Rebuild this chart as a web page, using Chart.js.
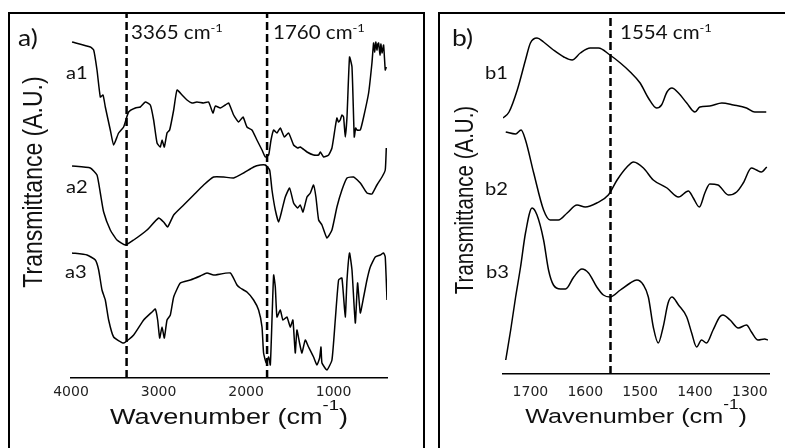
<!DOCTYPE html>
<html>
<head>
<meta charset="utf-8">
<script src="https://cdn.jsdelivr.net/npm/chart.js"></script>
<style>
  body { margin: 0; background: #fff; }
  #wrap { position: relative; width: 785px; height: 448px; overflow: hidden; background: #fff; }
  .box { position: absolute; top: 12px; height: 460px; border: 2px solid #000; box-sizing: border-box; }
  canvas { position: absolute; top: 0; }
</style>
</head>
<body>
<div id="wrap">
  <div class="box" style="left:8px;width:417px"></div>
  <div class="box" style="left:438px;width:360px"></div>
  <canvas id="ftirA" width="430" height="448" style="left:0"></canvas>
  <canvas id="ftirB" width="353" height="448" style="left:432px"></canvas>
</div>
<script>
// full-range spectra, [wavenumber cm-1, transmittance A.U.]
const a1 = [[3988,336],[3779,331],[3741,328],[3703,308],[3665,281],[3634,283],[3608,271],[3551,248],
  [3513,233],[3456,245],[3399,251],[3342,266],[3265,270],[3208,271],[3151,276],[3094,273],[3056,258],
  [3017,235],[2980,231],[2960,238],[2934,231],[2903,245],[2873,248],[2827,268],[2789,288],[2732,283],
  [2675,278],[2618,275],[2561,276],[2485,275],[2428,276],[2378,265],[2351,272],[2294,270],[2237,273],
  [2199,275],[2142,263],[2085,256],[2035,261],[1990,251],[1933,248],[1876,238],[1818,228],[1780,221],
  [1742,223],[1715,238],[1685,248],[1647,245],[1609,250],[1563,241],[1514,245],[1457,233],[1411,230],
  [1381,231],[1304,226],[1229,223],[1171,223],[1152,226],[1114,221],[1057,223],[1019,230],[981,251],
  [962,260],[945,256],[924,258],[905,263],[886,261],[867,241],[847,261],[818,321],[790,311],[764,241],
  [748,250],[733,248],[695,248],[657,261],[600,285],[562,315],[543,335],[530,326],[518,336],[505,328],
  [495,334],[486,335],[470,323],[460,334],[447,325],[429,333],[410,308],[398,311]];

const a2 = [[3988,212],[3779,210],[3703,203],[3665,185],[3627,166],[3551,148],[3475,138],[3379,133],
  [3284,138],[3132,148],[2999,160],[2942,156],[2896,151],[2827,163],[2713,173],[2599,183],[2485,193],
  [2371,201],[2257,201],[2142,200],[2028,205],[1914,211],[1838,213],[1780,213],[1731,208],[1704,188],
  [1666,168],[1628,156],[1590,168],[1552,181],[1503,190],[1457,175],[1411,170],[1381,173],[1350,166],
  [1304,181],[1266,185],[1229,193],[1202,181],[1171,158],[1133,153],[1076,140],[1019,148],[962,171],
  [905,188],[847,200],[771,201],[695,195],[619,185],[562,184],[505,193],[447,201],[410,208],[398,230]];

const a3 = [[3988,125],[3817,123],[3722,118],[3684,108],[3646,88],[3608,78],[3570,58],[3513,41],
  [3399,35],[3284,43],[3170,58],[3075,66],[3037,69],[3010,58],[2987,40],[2960,51],[2934,40],[2903,58],
  [2865,63],[2827,81],[2751,95],[2637,98],[2523,102],[2447,105],[2371,103],[2180,105],[2104,93],
  [2066,90],[1990,86],[1914,78],[1857,68],[1818,51],[1800,25],[1769,15],[1742,21],[1723,13],[1704,58],
  [1685,103],[1666,91],[1647,61],[1609,68],[1579,58],[1533,61],[1495,51],[1465,58],[1438,25],[1419,48],
  [1389,35],[1362,25],[1324,38],[1286,31],[1229,21],[1191,13],[1160,20],[1144,31],[1133,15],[1076,8],
  [1019,18],[981,58],[943,98],[905,100],[867,61],[847,98],[818,125],[790,108],[752,55],[726,95],
  [695,65],[657,81],[619,98],[581,111],[524,121],[467,123],[429,125],[410,121],[390,78]];

// amide region close-up
const b1 = [[1750,256],[1739,262],[1724,284],[1709,314],[1700,331],[1688,336],[1676,332],[1658,324],
  [1639,317],[1624,314],[1609,321],[1591,326],[1576,326],[1555,319],[1536,311],[1518,302],[1500,291],
  [1485,276],[1470,266],[1461,269],[1451,282],[1442,286],[1430,281],[1415,271],[1400,262],[1391,267],
  [1373,268],[1351,271],[1330,269],[1306,266],[1291,262],[1270,262]];

const b2 = [[1745,242],[1727,240],[1717,244],[1709,234],[1694,201],[1676,164],[1664,154],[1649,154],
  [1633,161],[1615,169],[1600,167],[1579,171],[1558,179],[1542,194],[1524,207],[1512,212],[1494,206],
  [1476,194],[1451,186],[1430,177],[1412,183],[1403,176],[1392,167],[1382,181],[1373,190],[1358,189],
  [1339,179],[1324,182],[1312,191],[1297,206],[1288,204],[1279,202],[1269,207]];

const b3 = [[1745,14],[1736,44],[1727,77],[1718,107],[1709,141],[1697,166],[1688,159],[1676,134],
  [1667,104],[1658,89],[1645,85],[1636,85],[1621,97],[1606,105],[1594,101],[1579,87],[1567,79],
  [1555,77],[1536,84],[1518,91],[1506,94],[1494,89],[1485,77],[1476,47],[1467,31],[1458,47],[1449,71],
  [1442,77],[1430,69],[1415,57],[1406,41],[1397,27],[1388,34],[1379,31],[1367,44],[1355,57],[1349,59],
  [1336,54],[1321,46],[1306,49],[1297,42],[1285,34],[1273,35],[1267,34]];

const ticksA = [4000, 3000, 2000, 1000];
const ticksB = [1700, 1600, 1500, 1400, 1300];
const bandsA = [3365, 1760];
const bandsB = [1554];

function putText(ctx, txt, x, y, o) {
  ctx.save();
  ctx.font = o.font;
  ctx.fillStyle = o.color || '#111';
  ctx.textBaseline = 'alphabetic';
  ctx.textAlign = o.align || 'left';
  ctx.translate(x, y);
  ctx.scale(o.sx || 1, 1);
  if (o.rot) ctx.rotate(o.rot);
  ctx.fillText(txt, 0, 0);
  const w = ctx.measureText(txt).width * (o.sx || 1);
  ctx.restore();
  return w;
}

// "xxx cm" followed by a raised -1
function putUnit(ctx, base, x, y, size, sup, raise, sx, tail, family) {
  const f = family || 'Lato';
  let w = putText(ctx, base, x, y, {font: size + 'px ' + f, sx});
  w += putText(ctx, '-1', x + w, y - raise, {font: sup + 'px ' + f, sx});
  if (tail) putText(ctx, tail, x + w, y, {font: size + 'px ' + f, sx});
}

function unitWidth(ctx, base, size, sup, sx, tail, family) {
  ctx.save();
  ctx.font = size + 'px ' + family;
  let w = ctx.measureText(base + (tail || '')).width;
  ctx.font = sup + 'px ' + family;
  w += ctx.measureText('-1').width;
  ctx.restore();
  return w * sx;
}

function spectrum(pts, smooth) {
  return {
    data: pts.map(p => ({x: p[0], y: p[1]})),
    borderColor: '#000', borderWidth: 1.5, pointRadius: 0,
    tension: smooth ? 0 : 0.15,
    cubicInterpolationMode: smooth ? 'monotone' : 'default'
  };
}

function bandLine(v, top) {
  return {
    data: [{x: v, y: 0}, {x: v, y: top}],
    borderColor: '#000', borderWidth: 2.5, borderDash: [8, 4], pointRadius: 0
  };
}

function panel(id, o) {
  const labels = {
    id: 'labels',
    afterDraw(chart) {
      const ctx = chart.ctx;
      const ca = chart.chartArea;
      o.draw(ctx, ca);
      // x title, centred under the plot
      const tw = unitWidth(ctx, 'Wavenumber (cm', o.titleSize, o.titleSize * 0.68, 1.23, ')', 'Liberation Sans');
      putUnit(ctx, 'Wavenumber (cm', (ca.left + ca.right) / 2 - tw / 2, o.titleY, o.titleSize,
        Math.round(o.titleSize * 0.68), 14, 1.23, ')', 'Liberation Sans');
      // y title
      putText(ctx, 'Transmittance (A.U.)', o.yTitleX, o.yTitleY,
        {font: o.yTitleSize + 'px Liberation Sans', sx: 1.22, rot: -Math.PI / 2, align: 'center'});
    }
  };
  return new Chart(document.getElementById(id), {
    type: 'line',
    data: {datasets: o.datasets},
    options: {
      responsive: false, animation: false, devicePixelRatio: 1, events: [],
      layout: {padding: o.padding},
      plugins: {legend: {display: false}, tooltip: {enabled: false}},
      scales: {
        x: {
          type: 'linear', reverse: true, min: o.xMin, max: o.xMax,
          grid: {display: false, drawTicks: false},
          border: {display: true, color: '#000', width: 1.5},
          ticks: {font: {family: 'DejaVu Sans', size: 14}, color: '#222', padding: o.tickPad,
            maxRotation: 0, autoSkip: false, callback: v => String(v)},
          afterBuildTicks: s => { s.ticks = o.ticks.map(v => ({value: v})); },
          afterFit: s => { s.height = o.axisH; }
        },
        y: {display: false, min: 0, max: o.yMax}
      }
    },
    plugins: [labels]
  });
}

panel('ftirA', {
  xMin: 390, xMax: 4000, yMax: 365, ticks: ticksA, axisH: 70, tickPad: 6,
  padding: {left: 71, right: 43, top: 13, bottom: 0},
  datasets: [spectrum(a1), spectrum(a2), spectrum(a3)].concat(bandsA.map(v => bandLine(v, 365))),
  titleSize: 22, titleY: 424, yTitleX: 42, yTitleY: 182, yTitleSize: 23,
  draw(ctx) {
    putText(ctx, 'a)', 18, 46, {font: '23px Lato', sx: 1.15});
    putText(ctx, 'a1', 66, 79, {font: '18px Lato', sx: 1.12});
    putText(ctx, 'a2', 66, 193, {font: '18px Lato', sx: 1.12});
    putText(ctx, 'a3', 65, 278, {font: '18px Lato', sx: 1.12});
    putUnit(ctx, bandsA[0] + ' cm', 131, 39, 19, 12, 7, 1.08);
    putUnit(ctx, bandsA[1] + ' cm', 273, 39, 19, 12, 7, 1.08);
  }
});

panel('ftirB', {
  xMin: 1265, xMax: 1750, yMax: 361, ticks: ticksB, axisH: 74, tickPad: 10,
  padding: {left: 71, right: 16, top: 13, bottom: 0},
  datasets: [spectrum(b1, true), spectrum(b2, true), spectrum(b3, true)].concat(bandsB.map(v => bandLine(v, 361))),
  titleSize: 20.5, titleY: 423, yTitleX: 41, yTitleY: 200, yTitleSize: 20.5,
  draw(ctx) {
    putText(ctx, 'b)', 20, 46, {font: '23px Lato', sx: 1.15});
    putText(ctx, 'b1', 53, 79, {font: '18px Lato', sx: 1.12});
    putText(ctx, 'b2', 53, 195, {font: '18px Lato', sx: 1.12});
    putText(ctx, 'b3', 54, 278, {font: '18px Lato', sx: 1.12});
    putUnit(ctx, bandsB[0] + ' cm', 188, 39, 19, 12, 7, 1.08);
  }
});
</script>
</body>
</html>
